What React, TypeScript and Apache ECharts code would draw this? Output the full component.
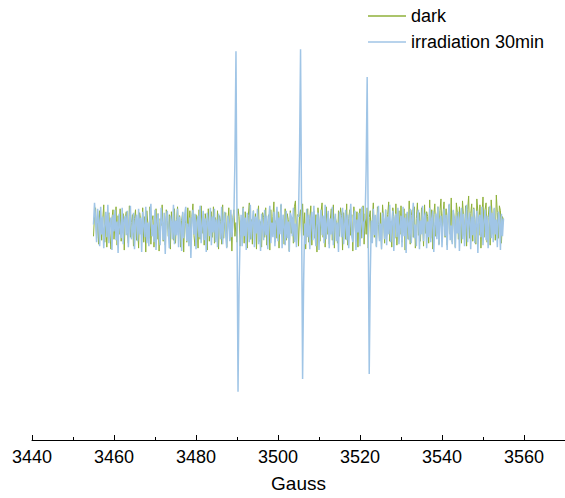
import React, { useEffect, useRef } from "react";
import * as echarts from "echarts";

// Field sweep: start and step (Gauss)
const fieldStart = 3455;
const fieldStep = 0.25;

// Signal intensity (arbitrary units)
const darkValues = [
  -8, 14, 21, -10, 6, -16, 18, 3, -12, 9, 24, -14, 7, -19, 12, 16, -5, -21, 10, 19,
  -11, 5, 22, -17, 13, -6, 20, -13, 8, 15, -22, 11, 17, -4, -15, 23, -9, 6, 14, -18,
  10, 19, -12, 4, -20, 16, 9, -7, 21, -14, 12, -24, 18, 5, -10, 22, -16, 8, 13, -19,
  7, 20, -11, 15, -23, 10, 3, 24, -13, 6, -17, 19, 11, -8, 14, -21, 17, 2, -12, 20,
  -15, 9, 22, -6, 13, -19, 8, 16, -24, 11, 5, -14, 21, -9, 18, -16, 12, 25, -7, -18,
  14, 6, -20, 19, -11, 23, -5, 10, -17, 15, 8, -22, 20, -13, 4, 17, -9, 22, -15, 11,
  -6, 18, -21, 13, 7, -16, 24, -10, 9, 16, -19, 5, 21, -12, 14, -23, 11, 19, -8, 6,
  -14, 20, 12, -18, 8, -7, 22, -15, 17, 3, -20, 13, 26, -11, 9, -16, 18, -4, 15, -21,
  10, 23, -13, 7, -19, 16, 11, -9, 21, -17, 5, 14, -22, 19, -6, 12, 27, -14, 8, -10,
  17, -20, 13, 24, -8, 6, -16, 20, -12, 15, 9, -23, 18, -5, 11, -15, 22, 28, -9, 14,
  -18, 12, 19, -11, 25, -7, 16, -21, 8, 20, -14, 10, 23, -17, 5, 18, -10, 14, -24, 21,
  7, -13, 17, 26, -9, 12, -19, 22, -6, 15, -16, 9, 20, -12, 24, -20, 11, 6, -15, 18,
  -8, 21, 13, -22, 16, 4, -11, 25, -17, 10, 19, -7, 14, -23, 22, 8, -13, 17, -19, 12,
  20, -10, 6, 23, -16, 15, -6, 21, -20, 11, 18, -14, 9, 26, -9, 13, -18, 22, 4, -12,
  16, -21, 24, 10, -15, 19, -8, 14, 27, -13, 7, -19, 21, 12, -10, 25, -17, 9, 18, -6,
  23, -14, 11, 20, -22, 15, 6, -11, 28, -16, 13, 19, -9, 22, -20, 10, 26, -7, 16, -13,
  21, 8, -18, 24, -5, 17, 12, -15, 29, -10, 19, -21, 14, 25, -8, 11, 22, -16, 18, 30,
  -12, 15, 27, -9, 20, -17, 13, 24, -6, 31, -14, 18, 10, -19, 26, 16, -11, 22, 8, -15,
  28, 12, -8, 23, -18, 19, 33, -10, 15, 25, -13, 21, 9, -16, 30, 17, -7, 24, -20, 14,
  32, -9, 19, 26, -14, 11, 22, -17, 29, 13, -6, 20, -12, 34, 16, -10, 23, 18, -15, 12,
  8,
];

const irradiationValues = [
  4, 26, 10, -14, 20, 8, -18, 22, -6, 12, -20, 3, 17, -9, 24, -15, 6, 11, -22, 14,
  -3, 19, -12, 7, -25, 15, 2, -10, 21, -16, 9, 13, -7, 18, -19, 5, 23, -11, -4, 16,
  -21, 8, 14, -13, 20, -6, 11, -24, 17, 3, -9, 22, -15, 6, -18, 12, 25, -8, 4, -14,
  19, -22, 9, 15, -5, -17, 21, 7, -12, 16, -26, 10, 18, -3, -20, 13, 6, -11, 24, -16,
  8, -7, 20, -19, 12, 4, -23, 17, -10, 14, 22, -13, 5, -18, 11, -30, 9, 19, -6, 15,
  -21, 7, 13, -9, 23, -15, 2, 18, -12, 10, -24, 16, 6, -8, 21, -17, 12, -4, 20, -14,
  9, -19, 15, 3, -11, 22, -16, 8, 17, -7, -20, 13, 5, -13, 19, -9, 6, 15, 70, 180,
  10, -166, -60, -10, 14, -18, 21, -8, 11, -22, 16, 4, -14, 24, -11, 7, 18, -19, 12, -5,
  20, -16, 9, -23, 15, 2, -12, 19, -7, 13, -21, 10, 23, -15, 6, -9, 17, -18, 8, 22,
  -13, 11, -6, 25, -20, 14, 3, -17, 18, -10, 7, -24, 16, 12, -8, 21, -14, 5, -19, 13,
  12, 75, 182, 15, -153, -55, 5, -16, 20, -9, 14, -21, 8, 17, -12, 23, -5, -18, 11, 16,
  -22, 9, 19, -7, 13, -15, 24, -11, 4, 18, -20, 10, -6, 22, -17, 8, 15, -13, 6, -24,
  17, 11, -9, 21, -16, 3, 19, -12, 14, -20, 7, 25, -8, -14, 12, 18, -22, 9, -4, 16,
  -18, 13, 22, -10, 6, 10, 60, 154, 5, -148, -50, 8, -15, 20, -7, 14, -19, 11, 23, -13,
  5, -21, 16, 9, -11, 19, -17, 12, -6, 24, -14, 7, 18, -23, 10, 15, -9, 21, -16, 3,
  13, -19, 22, -8, 11, -25, 17, 6, -12, 20, -15, 9, 26, -10, 4, -18, 14, 19, -21, 8,
  -6, 23, -13, 12, 16, -20, 7, -9, 21, -14, 10, 18, -24, 5, 15, -11, 22, -17, 9, 13,
  -19, 6, 20, -8, 14, -22, 11, 25, -12, 3, -16, 19, 8, -20, 13, -5, 17, -23, 10, 21,
  -11, 15, -18, 7, 24, -14, 9, 16, -21, 12, -7, 20, -15, 4, 18, -25, 11, 14, -9, 22,
  -17, 8, 19, -12, 13, -20, 6, 23, -10, 16, -14, 21, -6, 9, -19, 17, 12, -22, 15, -8,
  10,
];

const seriesNames = ["dark", "irradiation 30min"];
const seriesColors = ["#8fb13a", "#a0c5e6"];

const toPairs = (vals: number[]) =>
  vals.map((v, i) => [fieldStart + i * fieldStep, v]);

export default function App() {
  const ref = useRef<HTMLDivElement>(null);
  useEffect(() => {
    if (!ref.current) return;
    const chart = echarts.init(ref.current, undefined, { renderer: "svg" });
    const font = "'Liberation Sans', Arial, sans-serif";
    chart.setOption({
      animation: false,
      backgroundColor: "#ffffff",
      legend: {
        orient: "vertical",
        left: 368,
        top: 7,
        padding: 0,
        itemWidth: 38,
        itemHeight: 1.5,
        itemGap: 8,
        icon: "rect",
        data: seriesNames,
        textStyle: { fontFamily: font, fontSize: 18, color: "#000" },
      },
      grid: { left: 32, right: 0, top: 10, bottom: 51, containLabel: false },
      xAxis: {
        type: "value",
        min: 3440,
        max: 3570,
        interval: 20,
        name: "Gauss",
        nameLocation: "middle",
        nameGap: 34,
        nameTextStyle: { fontFamily: font, fontSize: 19, color: "#000" },
        axisLine: { show: true, onZero: false, lineStyle: { color: "#000", width: 1 } },
        axisTick: { show: true, inside: true, length: 5, lineStyle: { color: "#000" } },
        minorTick: { show: true, splitNumber: 2, length: 3, lineStyle: { color: "#000" } },
        axisLabel: {
          fontFamily: font,
          fontSize: 18,
          color: "#000",
          margin: 8,
          showMaxLabel: false,
          formatter: (v: number) => String(v),
        },
        splitLine: { show: false },
        minorSplitLine: { show: false },
      },
      yAxis: {
        type: "value",
        min: -215,
        max: 222,
        show: false,
        splitLine: { show: false },
      },
      series: [
        {
          name: seriesNames[0],
          type: "line",
          data: toPairs(darkValues),
          showSymbol: false,
          color: seriesColors[0],
          lineStyle: { width: 1, color: seriesColors[0] },
        },
        {
          name: seriesNames[1],
          type: "line",
          data: toPairs(irradiationValues),
          showSymbol: false,
          color: seriesColors[1],
          lineStyle: { width: 1.5, color: seriesColors[1] },
        },
      ],
    });
    return () => chart.dispose();
  }, []);
  return (
    <div
      ref={ref}
      style={{ position: "fixed", left: 0, top: 0, width: 565, height: 498 }}
    />
  );
}
